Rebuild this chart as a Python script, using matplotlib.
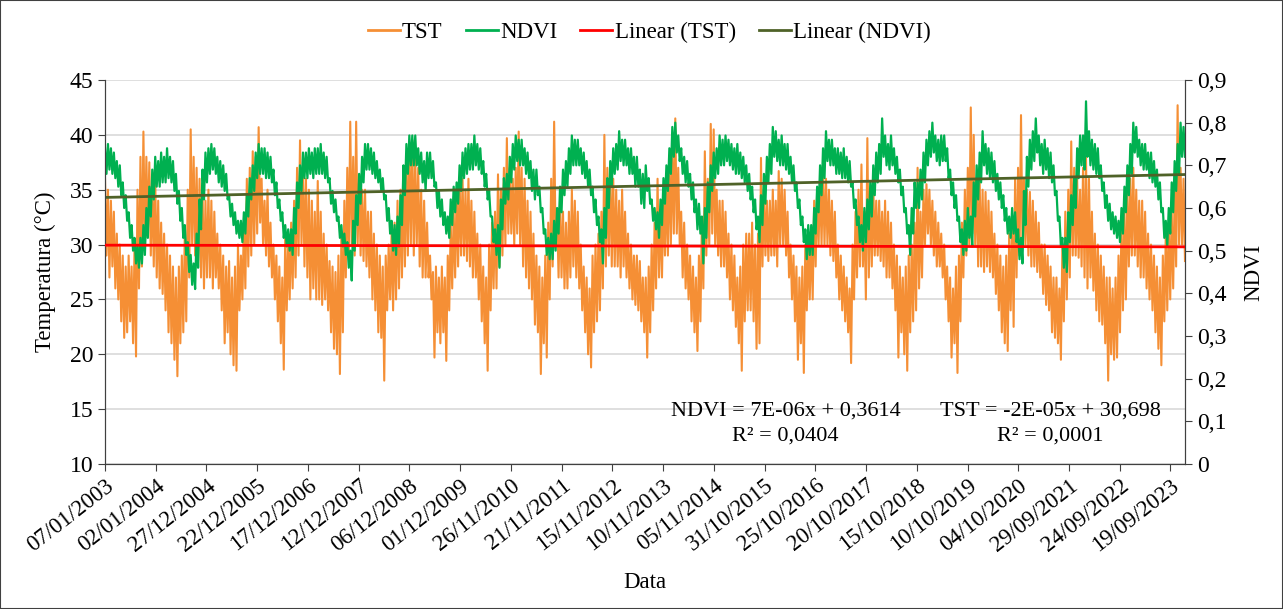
import numpy as np
import pandas as pd
import matplotlib
matplotlib.use('Agg')
import matplotlib.pyplot as plt
import matplotlib.dates as mdates
from matplotlib.lines import Line2D
from matplotlib.patches import Rectangle

plt.rcParams['font.family'] = ['Liberation Serif', 'DejaVu Serif']

# valores: maximo e minimo de cada janela de ~21 dias
tst_max = [36, 35, 34, 33, 31, 30, 29, 28, 29, 28, 30, 35, 38, 40.3, 38, 37.5, 36, 36, 34, 32,
           31, 30, 29, 28, 27, 28, 29, 31, 35, 40.5, 38, 37, 36, 35, 34,
           35, 34, 33, 31, 30, 29, 28, 28.5, 27, 28, 30, 29, 32, 36, 37, 38.5, 38, 40.7, 36, 34,
           35, 32, 30, 29, 28, 27, 31, 30, 32, 34, 37, 39.5, 37, 36, 35, 34, 33,
           35.8, 33, 31, 30, 28.5, 28, 27.5, 29, 31, 34, 37, 41.2, 38, 41.2, 36, 35, 35, 33, 33, 31,
           30, 29, 28, 29, 30, 31, 32, 34, 35, 36, 38, 39, 39.5, 38, 37, 35, 34,
           32, 29, 27.5, 28, 27, 28, 27, 29, 32, 33, 35, 36, 36, 35, 36, 34, 33, 31, 30, 28,
           27, 30, 32, 33, 36.4, 35, 37, 39.7, 37, 36, 37, 40.3, 37, 36, 34, 33, 31,
           29, 28, 27, 29, 32, 36, 41.2, 33, 34, 33, 32, 33, 35, 34, 33, 30, 28, 27, 26, 29,
           30, 31, 33, 40, 37, 37.5, 36, 35, 34, 35, 33, 31, 30, 29, 29, 28.5, 27,
           27, 28, 30, 32, 36, 33, 35, 36, 38, 39, 41.5, 37, 33, 32, 30, 29, 28, 27, 29, 32,
           38.5, 36, 41, 40.5, 35, 34, 34, 33, 31, 30, 29, 27, 28, 30, 31, 31, 32,
           30, 31, 37.9, 35, 34, 34, 35, 34, 36.7, 36, 35, 33, 30, 29, 28, 27, 28, 30, 30, 31,
           34, 35, 36, 36.5, 36, 35, 34, 33, 30, 29, 28, 27, 26, 30, 33, 35, 37.3,
           33, 39.7, 35, 35.5, 34, 34, 33, 34, 33, 32, 30, 29, 28, 27, 28, 29, 30, 32, 37, 33,
           35, 35.5, 35, 34, 33, 32, 31, 30, 28, 27, 26, 28, 29, 32, 35, 37, 42.5,
           40, 36, 36, 35, 34.8, 34, 33, 31, 30, 29, 28, 29, 31, 32, 36, 37, 41.8, 36, 35, 34.8,
           34, 33, 32, 30, 30, 29, 28, 27, 27, 26, 30, 33, 35, 39.4, 37, 36, 35,
           37, 38, 36, 33, 31, 30, 29, 28, 27, 27, 26, 27, 29, 32, 33, 35, 36, 37, 35, 34,
           34, 33, 31, 30, 29, 28, 27, 29, 31, 32, 33, 35, 42.7, 37, 36]

tst_min = [29, 27, 28, 26, 25, 23, 21.5, 22, 23, 21, 19.8, 26, 28, 30, 31, 29, 28, 27, 26, 25.5,
           24, 22, 21, 19.5, 18, 21, 22, 23, 27, 30, 29, 28, 27, 26, 27,
           27, 26, 27, 26, 24, 21, 22, 20, 19, 18.5, 24, 25, 26, 28, 29, 30, 31, 32, 30, 29,
           28, 27, 25, 23, 21, 18.6, 24, 25, 26, 27, 29, 30, 28, 27, 25, 26, 25,
           25, 24.5, 25, 24, 22, 20.5, 20, 18.2, 22, 27, 29, 30, 29, 30, 29, 28.5, 28, 27, 25, 24,
           22, 21.5, 17.6, 24, 25, 24, 25, 26, 27, 28, 29, 30, 29, 30, 28, 27, 27,
           27, 25, 19.7, 22, 21, 22, 19.4, 24, 26, 27, 28, 29, 29, 28.5, 28, 27, 27, 25, 23, 21,
           18.5, 24, 26, 26, 28, 29, 30, 31, 31, 30, 31, 30, 28, 27, 26, 25, 22.7,
           22, 18.2, 21, 19.7, 25, 28, 30, 27, 27, 26, 26, 27, 28, 27, 26, 24, 22, 20, 18.8, 22,
           23, 24, 26, 28, 29, 28, 28, 28, 27, 28, 27, 26, 25, 24.5, 24, 23, 22,
           19.7, 22, 24, 26, 27, 27, 29, 29, 30, 31, 31, 30, 27, 26, 25, 23, 22, 20.3, 23, 26,
           29, 30, 31, 30, 29, 28, 28, 27, 25, 24, 22.5, 21, 18.5, 23, 24, 24, 23,
           20.5, 21, 28, 29, 28.5, 29, 29, 28, 30, 30, 29, 27, 25, 23, 19.5, 21, 18.3, 24, 25, 25,
           28, 30, 30, 30, 30, 29, 28.5, 27, 25, 24, 23, 22, 19.2, 25, 27, 28, 28,
           25, 27, 28, 29, 29, 28.5, 28, 27, 27, 26, 24, 19.7, 22, 20, 18.5, 22, 23, 24, 26, 27,
           30, 31, 30, 29, 28, 28, 27, 25, 23, 19.7, 21, 18.3, 23, 27, 29, 30, 31,
           30, 28, 28, 27.5, 28, 27.5, 27, 25.5, 24, 22, 21, 20.3, 24, 22.5, 27, 29, 30, 30, 29, 28,
           28, 27.5, 27, 25.5, 24.5, 24, 22, 21.5, 21, 19.5, 23, 25, 27, 29, 29, 28.8, 28,
           27, 26, 27, 25.8, 24, 23, 22.7, 21, 17.6, 20, 19.5, 19.7, 22, 24, 25, 28, 29, 29, 28, 27,
           27, 26, 25, 24, 22, 20.5, 19, 23, 24, 25, 26, 28, 30, 30, 28.5]

ndvi_max = [.74, .75, .74, .73, .71, .70, .66, .63, .59, .56, .53, .51, .53, .56, .60, .65, .69, .72,
            .71, .73, .72, .74, .72, .71, .68, .64, .60, .56, .52, .49, .47, .54, .62, .69, .73,
            .74, .75, .74, .72, .71, .70, .68, .63, .61, .59, .57, .57, .59, .63, .67, .70, .73, .75,
            .74, .74, .73, .72, .69, .66, .62, .59, .56, .55, .55, .60, .66, .70, .73, .73, .74, .73, .74,
            .74, .75, .73, .72, .67, .64, .62, .58, .56, .54, .52, .50, .57, .63, .68, .72, .75, .75,
            .74, .73, .71, .69, .67, .63, .60, .57, .56, .58, .63, .70, .75, .77, .77, .77, .74, .73, .71,
            .73, .73, .71, .66, .64, .62, .59, .58, .62, .65, .66, .70, .73, .74, .75, .75, .77, .75,
            .74, .71, .68, .64, .58, .55, .56, .62, .67, .68, .72, .75, .77, .76, .76, .74, .73, .71, .69,
            .69, .65, .60, .55, .53, .54, .57, .60, .65, .69, .71, .74, .77, .76, .76, .74, .73, .71,
            .69, .65, .62, .58, .55, .60, .67, .71, .74, .75, .78, .76, .76, .74, .74, .72, .72, .69, .68,
            .70, .67, .62, .60, .59, .62, .67, .70, .74, .79, .80, .77, .74, .72, .71, .68, .66, .62,
            .61, .58, .60, .66, .70, .73, .74, .77, .76, .77, .76, .75, .74, .75, .73, .72, .70, .68, .65,
            .62, .58, .63, .68, .72, .75, .79, .78, .76, .77, .75, .75, .72, .70, .66, .62, .58, .55,
            .56, .56, .60, .65, .70, .74, .78, .76, .76, .74, .74, .73, .74, .72, .71, .66, .62, .58, .56,
            .60, .62, .66, .70, .73, .75, .81, .77, .75, .77, .74, .72, .69, .65, .60, .56, .60, .66,
            .66, .69, .73, .76, .78, .80, .77, .76, .77, .77, .74, .69, .66, .63, .58, .55, .57, .60, .58,
            .66, .70, .73, .78, .75, .74, .73, .71, .68, .66, .63, .60, .58, .60, .59, .55, .53, .64,
            .72, .76, .78, .81, .77, .75, .76, .74, .73, .70, .64, .58, .53, .53, .59, .63, .67, .74, .77,
            .77, .85, .78, .76, .75, .74, .70, .66, .63, .61, .59, .58, .57, .60, .65, .70, .75, .80,
            .79, .76, .75, .75, .73, .73, .71, .69, .66, .60, .57, .60, .66, .71, .75, .80, .79]

ndvi_min = [.68, .69, .68, .67, .65, .63, .60, .57, .53, .50, .47, .46, .47, .49, .53, .58, .62, .65,
            .65, .66, .66, .67, .66, .64, .61, .57, .53, .49, .45, .42, .41, .46, .55, .62, .66,
            .68, .69, .68, .66, .65, .64, .62, .58, .56, .54, .53, .52, .54, .58, .62, .64, .67, .68,
            .68, .67, .67, .66, .63, .60, .57, .53, .51, .50, .49, .54, .60, .64, .67, .67, .68, .67, .68,
            .68, .68, .67, .66, .61, .59, .57, .53, .51, .49, .46, .43, .50, .56, .61, .66, .69, .69,
            .68, .67, .66, .64, .62, .57, .54, .50, .49, .51, .56, .63, .68, .70, .70, .70, .68, .66, .64,
            .67, .67, .65, .60, .58, .56, .54, .53, .56, .59, .61, .64, .67, .68, .69, .69, .70, .69,
            .68, .65, .62, .58, .52, .49, .46, .55, .61, .62, .66, .69, .71, .70, .70, .68, .67, .64, .62,
            .63, .59, .54, .49, .48, .48, .50, .54, .59, .63, .65, .68, .70, .70, .70, .68, .67, .65,
            .63, .59, .56, .52, .47, .53, .60, .65, .68, .69, .71, .70, .70, .68, .68, .65, .65, .61, .60,
            .64, .61, .57, .55, .53, .56, .61, .64, .68, .72, .73, .71, .68, .66, .65, .62, .59, .55,
            .54, .47, .53, .59, .64, .67, .68, .70, .70, .71, .70, .69, .68, .68, .67, .66, .64, .62, .59,
            .55, .52, .56, .61, .66, .68, .72, .71, .70, .70, .69, .68, .66, .64, .60, .56, .52, .48,
            .49, .49, .54, .59, .63, .67, .71, .70, .70, .68, .68, .67, .67, .66, .65, .60, .56, .52, .50,
            .52, .55, .58, .63, .66, .68, .72, .70, .69, .70, .68, .66, .63, .59, .54, .49, .54, .60,
            .60, .62, .66, .70, .72, .73, .71, .70, .71, .71, .67, .63, .60, .57, .52, .49, .50, .53, .51,
            .58, .62, .66, .70, .68, .67, .66, .64, .62, .60, .57, .54, .53, .54, .52, .48, .47, .56,
            .65, .69, .71, .73, .70, .68, .69, .67, .66, .63, .57, .51, .46, .45, .52, .56, .60, .67, .70,
            .69, .72, .70, .69, .68, .67, .64, .60, .57, .55, .54, .53, .52, .54, .59, .63, .68, .73,
            .72, .70, .69, .69, .67, .66, .65, .62, .59, .53, .51, .54, .59, .64, .68, .72, .72]

data_ini = '2003-01-07'
data_fim = '2023-12-31'

# linhas de tendencia do Excel (x = numero de serie da data)
coef_tst = [-2e-05, 30.698]
coef_ndvi = [7e-06, 0.3614]
eq_tst = 'TST = -2E-05x + 30,698\nR² = 0,0001'
eq_ndvi = 'NDVI = 7E-06x + 0,3614\nR² = 0,0404'

# max/min alternados -> serie densa
tst = np.column_stack([tst_max, tst_min]).ravel()
ndvi = np.column_stack([ndvi_max, ndvi_min]).ravel()

datas = pd.date_range(data_ini, data_fim, periods=len(tst))
serial = (datas - pd.Timestamp('1899-12-30')).days.values
ticks_x = pd.date_range(data_ini, periods=22, freq='360D')

c_tst = '#F58F35'
c_ndvi = '#00B050'
c_lin_tst = '#FF0000'
c_lin_ndvi = '#4F6228'

fig = plt.figure(figsize=(12.83, 6.09), dpi=100)
ax = fig.add_axes([105 / 1283, 1 - 464 / 609, 1080 / 1283, 384 / 609])
ax2 = ax.twinx()
ax3 = ax.twinx()

ax.plot(datas, tst, color=c_tst, lw=1.5)
ax2.plot(datas, ndvi, color=c_ndvi, lw=1.6)
ax2.plot(datas, np.polyval(coef_ndvi, serial), color=c_lin_ndvi, lw=2.0)
ax3.plot(datas, np.polyval(coef_tst, serial), color=c_lin_tst, lw=2.0)

ax.set_ylim(10, 45)
ax.set_yticks(np.arange(10, 46, 5))
ax2.set_ylim(0, 0.9)
ax2.set_yticks(np.arange(0, 0.91, 0.1))
ax2.set_yticklabels(['0' if i == 0 else ('0,%d' % i) for i in range(10)])
ax3.set_ylim(10, 45)
ax3.axis('off')

ax.set_xlim(pd.Timestamp(data_ini), pd.Timestamp(data_fim))
ax.set_xticks(ticks_x)
ax.xaxis.set_major_formatter(mdates.DateFormatter('%d/%m/%Y'))
for lb in ax.get_xticklabels():
    lb.set_rotation(38)
    lb.set_ha('right')
    lb.set_va('top')
    lb.set_rotation_mode('anchor')

ax.grid(axis='y', color='#D9D9D9', lw=1.2)
ax.set_axisbelow(True)
for a in (ax, ax2):
    a.spines['top'].set_visible(False)
    a.spines['left'].set_color('#404040')
    a.spines['right'].set_color('#404040')
    a.spines['bottom'].set_color('#404040')
ax.tick_params(axis='y', labelsize=17, direction='out', length=5, color='#404040')
ax.tick_params(axis='x', labelsize=16.5, direction='out', length=5, color='#404040', pad=3)
ax2.tick_params(axis='y', labelsize=17, direction='out', length=5, color='#404040')

ax.set_ylabel('Temperatura (°C)', fontsize=16.5, labelpad=10)
ax2.set_ylabel('NDVI', fontsize=16.5, labelpad=12)
ax.set_xlabel('Data', fontsize=16.5, labelpad=12)

ax3.text(0.63, 0.105, eq_ndvi, transform=ax.transAxes, ha='center', va='center',
         fontsize=16, linespacing=1.45, zorder=10)
ax3.text(0.875, 0.105, eq_tst, transform=ax.transAxes, ha='center', va='center',
         fontsize=16, linespacing=1.45, zorder=10)

handles = [Line2D([], [], color=c_tst, lw=2), Line2D([], [], color=c_ndvi, lw=2),
           Line2D([], [], color=c_lin_tst, lw=2), Line2D([], [], color=c_lin_ndvi, lw=2)]
labels = ['TST', 'NDVI', 'Linear (TST)', 'Linear (NDVI)']
fig.legend(handles, labels, loc='center', bbox_to_anchor=(0.506, 0.947), ncol=4,
           frameon=False, fontsize=16.5, handlelength=1.4, handletextpad=0.1, columnspacing=1.0)

fig.patches.append(Rectangle((0, 0), 1, 1, transform=fig.transFigure, fill=False,
                             edgecolor='#404040', lw=1.5))

fig.savefig('out.png', dpi=100)
